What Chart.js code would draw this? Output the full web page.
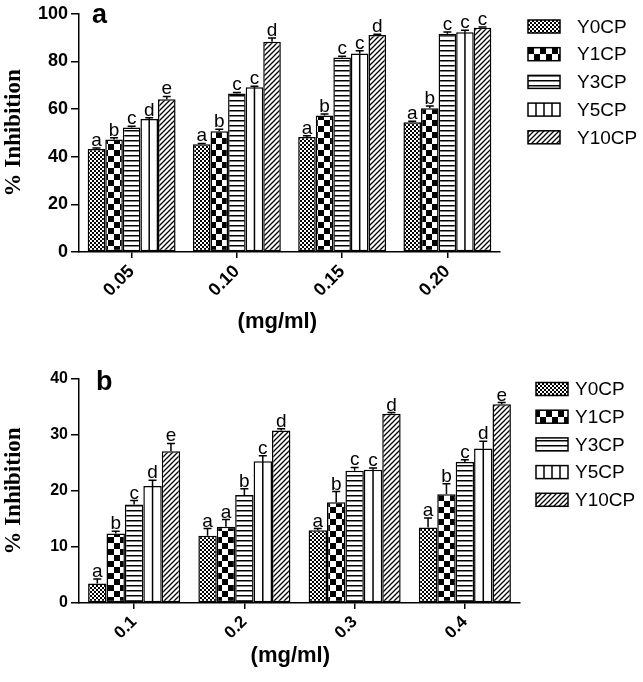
<!DOCTYPE html>
<html>
<head>
<meta charset="utf-8">
<script src="https://cdn.jsdelivr.net/npm/chart.js@4"></script>
<style>
body { margin: 0; background: #fff; }
.box { position: absolute; left: 0; width: 643px; }
</style>
</head>
<body>
<div class="box" style="top:0;height:345px"><canvas id="chartA"></canvas></div>
<div class="box" style="top:345px;height:337px"><canvas id="chartB"></canvas></div>
<script>
var seriesNames = ["Y0CP", "Y1CP", "Y3CP", "Y5CP", "Y10CP"];

// panel a
var dosesA = ["0.05", "0.10", "0.15", "0.20"];
var y0a = [43.2, 45.2, 48.3, 54.5];
var y1a = [47.2, 50.7, 57.3, 60.3];
var y3a = [52.3, 66.5, 81.7, 91.6];
var y5a = [55.8, 69.2, 83.3, 92.3];
var y10a = [64.1, 88.3, 91.1, 94.1];
var errY0a = [0.5, 0.4, 0.5, 0.4];
var errY1a = [0.8, 0.8, 0.6, 1.0];
var errY3a = [0.5, 0.5, 0.5, 0.8];
var errY5a = [0.6, 0.4, 1.2, 0.8];
var errY10a = [1.2, 1.5, 0.3, 0.4];
var letY0a = ["a", "a", "a", "a"];
var letY1a = ["b", "b", "b", "b"];
var letY3a = ["c", "c", "c", "c"];
var letY5a = ["d", "c", "c", "c"];
var letY10a = ["e", "d", "d", "c"];
var ticksA = [0, 20, 40, 60, 80, 100];

// panel b
var dosesB = ["0.1", "0.2", "0.3", "0.4"];
var y0b = [3.5, 12.0, 13.0, 13.5];
var y1b = [12.4, 13.6, 18.0, 19.4];
var y3b = [17.6, 19.3, 23.6, 25.2];
var y5b = [20.9, 25.3, 23.8, 27.6];
var y10b = [27.1, 30.8, 33.8, 35.5];
var errY0b = [0.8, 1.3, 0.3, 1.7];
var errY1b = [0.4, 1.3, 1.9, 1.9];
var errY3b = [0.7, 1.1, 0.6, 0.4];
var errY5b = [1.0, 1.0, 0.3, 1.3];
var errY10b = [1.4, 0.3, 0.2, 0.3];
var letY0b = ["a", "a", "a", "a"];
var letY1b = ["b", "a", "b", "b"];
var letY3b = ["c", "b", "c", "c"];
var letY5b = ["d", "c", "c", "d"];
var letY10b = ["e", "d", "d", "e"];
var ticksB = [0, 10, 20, 30, 40];

var SANS = "'Liberation Sans', Arial, sans-serif";
var SERIF = "'Liberation Serif', 'Times New Roman', serif";
Chart.defaults.color = '#000';

function makePattern(kind) {
    var c = document.createElement('canvas');
    var g = c.getContext('2d');
    var s;
    if (kind === 'fine') {
        s = 4; c.width = s; c.height = s;
        g.fillStyle = '#fff'; g.fillRect(0, 0, s, s);
        g.fillStyle = '#000';
        g.fillRect(0, 0, 2, 2); g.fillRect(2, 2, 2, 2);
    } else if (kind === 'check') {
        s = 12; c.width = s; c.height = s;
        g.fillStyle = '#fff'; g.fillRect(0, 0, s, s);
        g.fillStyle = '#000';
        g.fillRect(0, 0, 6, 6); g.fillRect(6, 6, 6, 6);
    } else if (kind === 'hlines') {
        c.width = 4; c.height = 5;
        g.fillStyle = '#fff'; g.fillRect(0, 0, 4, 5);
        g.fillStyle = '#000'; g.fillRect(0, 0, 4, 1.5);
    } else if (kind === 'diag') {
        s = 5; c.width = s; c.height = s;
        g.fillStyle = '#fff'; g.fillRect(0, 0, s, s);
        g.strokeStyle = '#000'; g.lineWidth = 1.3;
        g.beginPath();
        g.moveTo(0, s); g.lineTo(s, 0);
        g.moveTo(-1, 1); g.lineTo(1, -1);
        g.moveTo(s - 1, s + 1); g.lineTo(s + 1, s - 1);
        g.stroke();
    }
    return g.createPattern(c, 'repeat');
}

var fills = [makePattern('fine'), makePattern('check'), makePattern('hlines'), '#fff', makePattern('diag')];

// error bars, letters, panel label and legend
var extras = {
    id: 'extras',
    afterDatasetsDraw: function(chart, args, opts) {
        var ctx = chart.ctx, ys = chart.scales.y;
        ctx.save();
        ctx.strokeStyle = '#000';
        ctx.lineWidth = 1.5;
        ctx.fillStyle = '#000';
        ctx.font = opts.letterSize + 'px ' + SANS;
        ctx.textAlign = 'center';
        ctx.textBaseline = 'alphabetic';
        chart.data.datasets.forEach(function(ds, i) {
            var meta = chart.getDatasetMeta(i);
            meta.data.forEach(function(bar, j) {
                if (i === 3) {
                    ctx.beginPath();
                    ctx.moveTo(bar.x, bar.y);
                    ctx.lineTo(bar.x, bar.base);
                    ctx.stroke();
                }
                var top = ys.getPixelForValue(ds.data[j] + ds.errors[j]);
                ctx.beginPath();
                ctx.moveTo(bar.x, bar.y);
                ctx.lineTo(bar.x, top);
                ctx.moveTo(bar.x - 4, top);
                ctx.lineTo(bar.x + 4, top);
                ctx.stroke();
                ctx.fillText(ds.letters[j], bar.x, top - 2);
            });
        });
        ctx.restore();
    },
    afterDraw: function(chart, args, opts) {
        var ctx = chart.ctx;
        ctx.save();
        ctx.fillStyle = '#000';
        ctx.font = 'bold 27px ' + SANS;
        ctx.textAlign = 'left';
        ctx.textBaseline = 'alphabetic';
        ctx.fillText(opts.panel, opts.panelX, opts.panelY);

        ctx.font = opts.legendSize + 'px ' + SANS;
        ctx.textBaseline = 'middle';
        chart.data.datasets.forEach(function(ds, i) {
            var cy = opts.legendY + i * opts.legendGap;
            var bx = opts.legendX, by = cy - 6.5, bw = 32, bh = 13;
            ctx.fillStyle = ds.backgroundColor;
            ctx.fillRect(bx, by, bw, bh);
            ctx.strokeStyle = '#000';
            ctx.lineWidth = 1.5;
            if (i === 3) {
                ctx.beginPath();
                for (var k = 1; k < 4; k++) {
                    ctx.moveTo(bx + k * 8, by);
                    ctx.lineTo(bx + k * 8, by + bh);
                }
                ctx.stroke();
            }
            ctx.strokeRect(bx, by, bw, bh);
            ctx.fillStyle = '#000';
            ctx.fillText(ds.label, opts.legendTextX, cy + 1);
        });
        ctx.restore();
    }
};

function makeDatasets(vals, errs, lets) {
    return vals.map(function(v, i) {
        return {
            label: seriesNames[i],
            data: v,
            errors: errs[i],
            letters: lets[i],
            backgroundColor: fills[i],
            borderColor: '#000',
            borderWidth: 1.5,
            borderSkipped: false,
            barPercentage: 1,
            categoryPercentage: 0.835
        };
    });
}

function makeOptions(cfg) {
    return {
        responsive: true,
        maintainAspectRatio: false,
        animation: false,
        layout: { padding: { left: 0, right: cfg.padRight, top: cfg.padTop, bottom: cfg.padBottom } },
        plugins: {
            legend: { display: false },
            tooltip: { enabled: false },
            extras: cfg.extras
        },
        scales: {
            x: {
                offset: true,
                grid: { offset: false, drawOnChartArea: false, color: '#000', lineWidth: 1.5, tickLength: 6 },
                border: { color: '#000', width: 1.5 },
                ticks: { minRotation: 45, maxRotation: 45, padding: 3, font: { family: SANS, weight: 'bold', size: cfg.xTickSize } },
                title: { display: true, text: cfg.xTitle, padding: 0, font: { family: SANS, weight: 'bold', size: 22 } },
                afterFit: function(s) { s.height = cfg.xHeight; }
            },
            y: {
                min: cfg.ticks[0],
                max: cfg.ticks[cfg.ticks.length - 1],
                afterBuildTicks: function(s) { s.ticks = cfg.ticks.map(function(v) { return { value: v }; }); },
                grid: { drawOnChartArea: false, color: '#000', lineWidth: 1.5, tickLength: 8 },
                border: { color: '#000', width: 1.5 },
                ticks: { padding: 3, font: { family: SANS, weight: 'bold', size: cfg.yTickSize } },
                title: { display: true, text: '% Inhibition', padding: 0, font: { family: SERIF, weight: 'bold', size: 23 } },
                afterFit: function(s) { s.width = 79; }
            }
        }
    };
}

new Chart(document.getElementById('chartA'), {
    type: 'bar',
    data: {
        labels: dosesA,
        datasets: makeDatasets([y0a, y1a, y3a, y5a, y10a],
            [errY0a, errY1a, errY3a, errY5a, errY10a],
            [letY0a, letY1a, letY3a, letY5a, letY10a])
    },
    options: makeOptions({
        padRight: 143, padTop: 11, padBottom: 10, xHeight: 83,
        ticks: ticksA, xTickSize: 18, yTickSize: 18, xTitle: '(mg/ml)    ',
        extras: { panel: 'a', panelX: 92, panelY: 23, letterSize: 19,
            legendX: 528, legendTextX: 577, legendY: 26.5, legendGap: 27.7, legendSize: 19 }
    }),
    plugins: [extras]
});

new Chart(document.getElementById('chartB'), {
    type: 'bar',
    data: {
        labels: dosesB,
        datasets: makeDatasets([y0b, y1b, y3b, y5b, y10b],
            [errY0b, errY1b, errY3b, errY5b, errY10b],
            [letY0b, letY1b, letY3b, letY5b, letY10b])
    },
    options: makeOptions({
        padRight: 123, padTop: 34, padBottom: 13, xHeight: 66,
        ticks: ticksB, xTickSize: 17, yTickSize: 16, xTitle: '(mg/ml)   ',
        extras: { panel: 'b', panelX: 96, panelY: 45, letterSize: 19,
            legendX: 536, legendTextX: 575, legendY: 44, legendGap: 27.7, legendSize: 19 }
    }),
    plugins: [extras]
});
</script>
</body>
</html>
